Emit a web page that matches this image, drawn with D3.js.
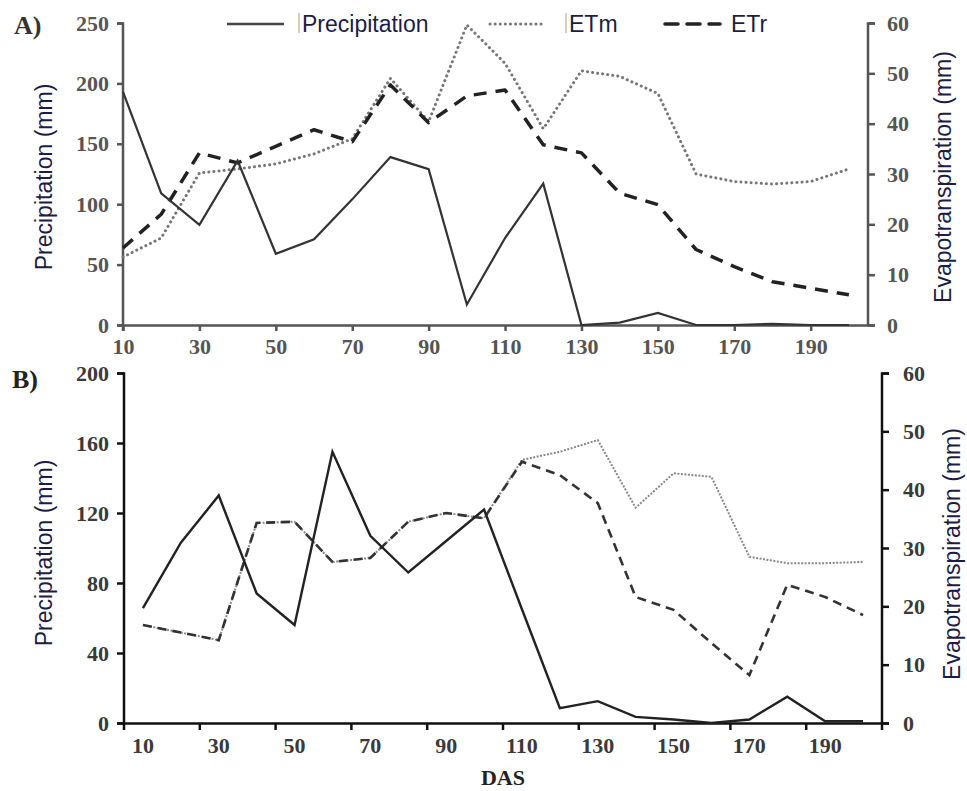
<!DOCTYPE html>
<html lang="en">
<head>
<meta charset="UTF-8">
<title>Precipitation and evapotranspiration</title>
<style>
  body { margin: 0; background: #fff; }
  .tick text { font-family: "Liberation Serif", "Times New Roman", serif; font-size: 22px; font-weight: bold; fill: #4a4a4a; }
  .ttl { font-family: "Liberation Sans", Arial, sans-serif; font-size: 23px; fill: #1c1c44; }
</style>
</head>
<body>
<script src="https://cdn.jsdelivr.net/npm/d3@7/dist/d3.min.js"></script>
<script>
const das = [10, 20, 30, 40, 50, 60, 70, 80, 90, 100, 110, 120, 130, 140, 150, 160, 170, 180, 190, 200];
const dasTicks = [10, 30, 50, 70, 90, 110, 130, 150, 170, 190];

// panel A
const precipA = [193, 109, 83, 136, 59, 71, 104, 139, 129, 17, 72, 117, 0, 2, 10, 0, 0, 1, 0, 0];
const etmA = [13.5, 17.3, 30.2, 31, 32, 34, 37, 49, 40.4, 59.6, 52, 39, 50.5, 49.4, 46, 30, 28.5, 28, 28.5, 31];
const etrA = [15.3, 22, 34.2, 32.2, 35.5, 38.8, 36.4, 47.7, 40.2, 45.5, 46.7, 35.8, 34.2, 26.2, 23.9, 15, 11.6, 8.6, 7.3, 6];
const precipTicksA = [0, 50, 100, 150, 200, 250];

// panel B
const precipB = [65.7, 103, 130, 74, 56, 155, 107, 86, 104, 122, 65, 8.5, 12.5, 3.5, 2, 0, 2, 15, 1, 1];
const etmB = [16.8, 15.5, 14.2, 34.3, 34.5, 27.6, 28.3, 34.5, 36, 35.1, 45.1, 46.5, 48.5, 36.9, 42.8, 42.2, 28.5, 27.4, 27.4, 27.6];
const etrB = [16.8, 15.5, 14.2, 34.3, 34.5, 27.6, 28.3, 34.5, 36, 35.1, 44.8, 42.5, 37.7, 21.6, 19.4, 13.7, 8.2, 23.7, 21.6, 18.5];
const precipTicksB = [0, 40, 80, 120, 160, 200];
const etTicks = [0, 10, 20, 30, 40, 50, 60];

const w = 967;
const h = 791;

const svg = d3.select('body')
  .append('svg')
  .attr('width', w)
  .attr('height', h);

// ---------- panel A ----------
const xA = d3.scaleLinear().domain([10, 205]).range([123, 868]);
const yA = d3.scaleLinear().domain([0, 250]).range([325, 23]);
const y2A = d3.scaleLinear().domain([0, 60]).range([325, 23]);

const gA = svg.append('g');

gA.append('g')
  .attr('transform', 'translate(0,325)')
  .call(d3.axisBottom(xA).tickValues(dasTicks).tickSizeInner(6).tickSizeOuter(0).tickPadding(7))
  .call(g => g.select('.domain').attr('d', 'M117,0.5H875'));

gA.append('g')
  .attr('transform', 'translate(123,0)')
  .call(d3.axisLeft(yA).tickValues(precipTicksA).tickSize(6).tickPadding(8))
  .call(g => g.select('.domain').attr('d', 'M-6,23.5H0V331'));

gA.append('g')
  .attr('transform', 'translate(868,0)')
  .call(d3.axisRight(y2A).tickValues(etTicks).tickSize(7).tickPadding(12))
  .call(g => g.select('.domain').attr('d', 'M7,23.5H0V325'));

gA.selectAll('.domain, .tick line').attr('stroke', '#555').attr('stroke-width', 2.5);
gA.selectAll('.tick text').style('fill', '#555');

const lineA = d3.line().x((d, i) => xA(das[i])).y(d => yA(d));
const lineA2 = d3.line().x((d, i) => xA(das[i])).y(d => y2A(d));

gA.append('path').datum(etmA).attr('d', lineA2)
  .attr('fill', 'none').attr('stroke', '#777').attr('stroke-width', 3)
  .attr('stroke-dasharray', '0.1 5').attr('stroke-linecap', 'round').attr('stroke-linejoin', 'round');
gA.append('path').datum(etrA).attr('d', lineA2)
  .attr('fill', 'none').attr('stroke', '#222').attr('stroke-width', 3.5)
  .attr('stroke-dasharray', '13 9').attr('stroke-linejoin', 'round');
gA.append('path').datum(precipA).attr('d', lineA)
  .attr('fill', 'none').attr('stroke', '#333').attr('stroke-width', 2.2);

// legend
const legend = [
  { name: 'Precipitation', x1: 227, x2: 284, tx: 302, dash: null, color: '#444', sw: 2.5, bar: true },
  { name: 'ETm', x1: 490, x2: 546, tx: 569, dash: '0.1 5', color: '#777', sw: 3, bar: true },
  { name: 'ETr', x1: 665, x2: 720, tx: 731, dash: '13 9', color: '#222', sw: 3.5, bar: false }
];
const lg = svg.append('g').selectAll('g').data(legend).enter().append('g');
lg.append('line')
  .attr('x1', d => d.x1).attr('x2', d => d.x2).attr('y1', 24).attr('y2', 24)
  .attr('stroke', d => d.color).attr('stroke-width', d => d.sw)
  .attr('stroke-dasharray', d => d.dash).attr('stroke-linecap', d => d.dash ? 'round' : 'butt');
lg.filter(d => d.bar).append('line')
  .attr('x1', d => d.tx - 3).attr('x2', d => d.tx - 3).attr('y1', 13).attr('y2', 33)
  .attr('stroke', '#c0a890').attr('stroke-width', 1.2);
lg.append('text')
  .attr('class', 'ttl')
  .attr('x', d => d.tx).attr('y', 32)
  .text(d => d.name);

// ---------- panel B ----------
const xB = d3.scaleBand().domain(das).range([124, 882]);
const yB = d3.scaleLinear().domain([0, 200]).range([723, 373]);
const y2B = d3.scaleLinear().domain([0, 60]).range([723, 373]);

const gB = svg.append('g');

const xAxisB = gB.append('g')
  .attr('transform', 'translate(0,723)')
  .call(d3.axisBottom(xB).tickValues(dasTicks).tickSize(0).tickPadding(14))
  .call(g => g.select('.domain').attr('d', 'M117,0.5H889'));
// tick marks sit on the category boundaries, one every two categories
xAxisB.selectAll('.boundary')
  .data(das.filter((d, i) => i % 2 === 0 && i > 0))
  .enter().append('line')
  .attr('x1', d => xB(d)).attr('x2', d => xB(d))
  .attr('y1', 0).attr('y2', 7);

gB.append('g')
  .attr('transform', 'translate(124,0)')
  .call(d3.axisLeft(yB).tickValues(precipTicksB).tickSize(7).tickPadding(8))
  .call(g => g.select('.domain').attr('d', 'M-7,373.5H0V730'));

gB.append('g')
  .attr('transform', 'translate(882,0)')
  .call(d3.axisRight(y2B).tickValues(etTicks).tickSize(7).tickPadding(14))
  .call(g => g.select('.domain').attr('d', 'M7,373.5H0V730'));

gB.selectAll('.domain, .tick line, line').attr('stroke', '#111').attr('stroke-width', 2.5);
gB.selectAll('.tick text').style('fill', '#3a3a3a');

const cx = d => xB(d) + xB.bandwidth() / 2;
const lineB = d3.line().x((d, i) => cx(das[i])).y(d => yB(d));
const lineB2 = d3.line().x((d, i) => cx(das[i])).y(d => y2B(d));

gB.append('path').datum(etmB).attr('d', lineB2)
  .attr('fill', 'none').attr('stroke', '#888').attr('stroke-width', 2)
  .attr('stroke-dasharray', '2 1.5');
gB.append('path').datum(etrB).attr('d', lineB2)
  .attr('fill', 'none').attr('stroke', '#333').attr('stroke-width', 2.6)
  .attr('stroke-dasharray', '9 6');
gB.append('path').datum(precipB).attr('d', lineB)
  .attr('fill', 'none').attr('stroke', '#222').attr('stroke-width', 2.4);

// ---------- titles ----------
svg.append('text').attr('x', 14).attr('y', 34)
  .style('font-family', '"Liberation Serif", serif').style('font-size', '26px').style('font-weight', 'bold').style('fill', '#333')
  .text('A)');
svg.append('text').attr('x', 12).attr('y', 388)
  .style('font-family', '"Liberation Serif", serif').style('font-size', '26px').style('font-weight', 'bold').style('fill', '#222')
  .text('B)');
svg.append('text').attr('x', 503).attr('y', 785).attr('text-anchor', 'middle')
  .style('font-family', '"Liberation Serif", serif').style('font-size', '22px').style('font-weight', 'bold').style('fill', '#222')
  .text('DAS');

const yTitles = [
  { t: 'Precipitation (mm)', x: 52, y: 177 },
  { t: 'Evapotranspiration (mm)', x: 951, y: 177 },
  { t: 'Precipitation (mm)', x: 52, y: 553 },
  { t: 'Evapotranspiration (mm)', x: 960, y: 554 }
];
svg.selectAll('.ytitle').data(yTitles).enter().append('text')
  .attr('class', 'ttl ytitle')
  .attr('text-anchor', 'middle')
  .attr('transform', d => `translate(${d.x},${d.y}) rotate(-90)`)
  .text(d => d.t);
</script>
</body>
</html>
